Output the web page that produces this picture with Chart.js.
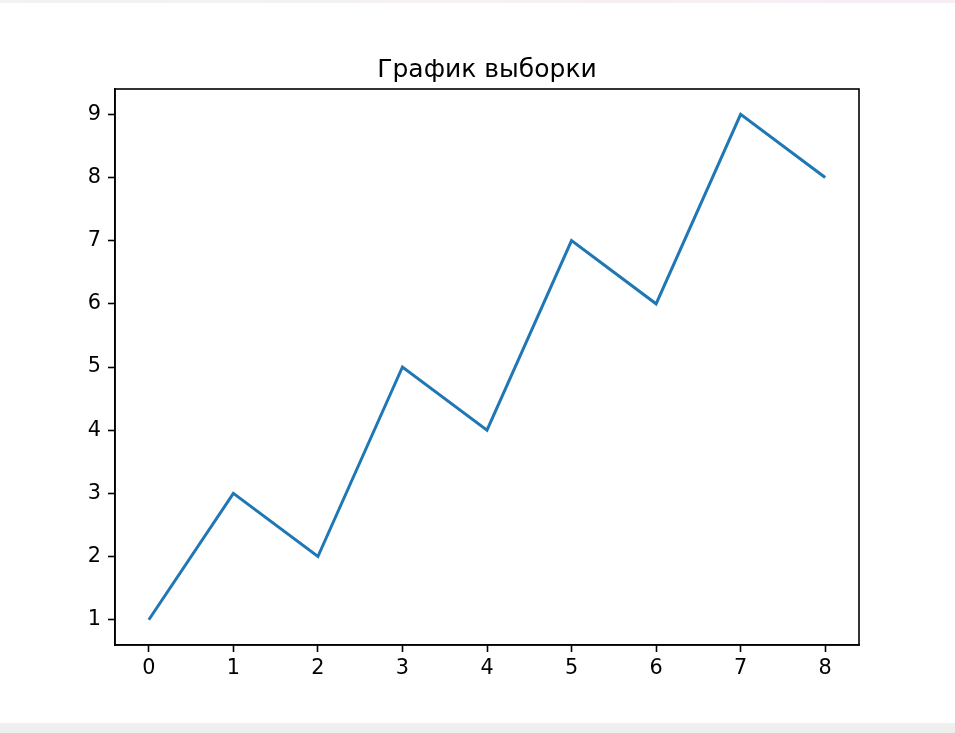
<!DOCTYPE html>
<html>
<head>
<meta charset="utf-8">
<script src="https://cdn.jsdelivr.net/npm/chart.js@4"></script>
<style>
  html, body { margin: 0; padding: 0; background: #efefef; }
  #top { height: 3px; background: linear-gradient(to right, #f2f2f2, #f7eef5); }
  #wrap { width: 955px; height: 720px; background: #fff; }
</style>
</head>
<body>
<div id="top"></div>
<div id="wrap"><canvas id="chart" width="955" height="720"></canvas></div>
<script>
// sample data
var title = 'График выборки';
var xValues = [0, 1, 2, 3, 4, 5, 6, 7, 8];
var yValues = [1, 3, 2, 5, 4, 7, 6, 9, 8];
var xTicks = [0, 1, 2, 3, 4, 5, 6, 7, 8];
var yTicks = [1, 2, 3, 4, 5, 6, 7, 8, 9];

var points = xValues.map(function(x, i) {
    return {x: x, y: yValues[i]};
});

// matplotlib style box around the plot area
var frame = {
    id: 'frame',
    afterDraw: function(chart) {
        var a = chart.chartArea;
        var ctx = chart.ctx;
        ctx.save();
        ctx.strokeStyle = '#000';
        ctx.lineWidth = 1.6;
        ctx.strokeRect(a.left, a.top, a.right - a.left, a.bottom - a.top);
        ctx.restore();
    }
};

var ctx = document.getElementById('chart').getContext('2d');
var chart = new Chart(ctx, {
    type: 'line',
    data: {
        datasets: [{
            data: points,
            borderColor: '#1f77b4',
            borderWidth: 3,
            pointRadius: 0,
            tension: 0,
            fill: false
        }]
    },
    options: {
        responsive: false,
        animation: false,
        layout: { padding: { left: 55, right: 96, top: 52, bottom: 38 } },
        plugins: {
            legend: { display: false },
            tooltip: { enabled: false },
            title: {
                display: true,
                fullSize: false,
                text: title,
                color: '#000',
                font: { family: 'DejaVu Sans', size: 25, weight: 'normal' },
                padding: { top: 0, bottom: 4 }
            }
        },
        scales: {
            x: {
                type: 'linear',
                min: -0.4,
                max: 8.4,
                afterBuildTicks: function(scale) {
                    scale.ticks = xTicks.map(function(v) { return {value: v}; });
                },
                afterFit: function(scale) { scale.height = 40; },
                grid: { drawOnChartArea: false, tickLength: 7, tickColor: '#000', tickWidth: 1.6 },
                border: { color: '#000', width: 1.6 },
                ticks: {
                    color: '#000',
                    padding: 4,
                    maxRotation: 0,
                    font: { family: 'DejaVu Sans', size: 20.8 }
                }
            },
            y: {
                min: 0.6,
                max: 9.4,
                afterBuildTicks: function(scale) {
                    scale.ticks = yTicks.map(function(v) { return {value: v}; });
                },
                afterFit: function(scale) { scale.width = 60; },
                grid: { drawOnChartArea: false, tickLength: 7, tickColor: '#000', tickWidth: 1.6 },
                border: { color: '#000', width: 1.6 },
                ticks: {
                    color: '#000',
                    padding: 7,
                    font: { family: 'DejaVu Sans', size: 20.8 }
                }
            }
        }
    },
    plugins: [frame]
});
</script>
</body>
</html>
